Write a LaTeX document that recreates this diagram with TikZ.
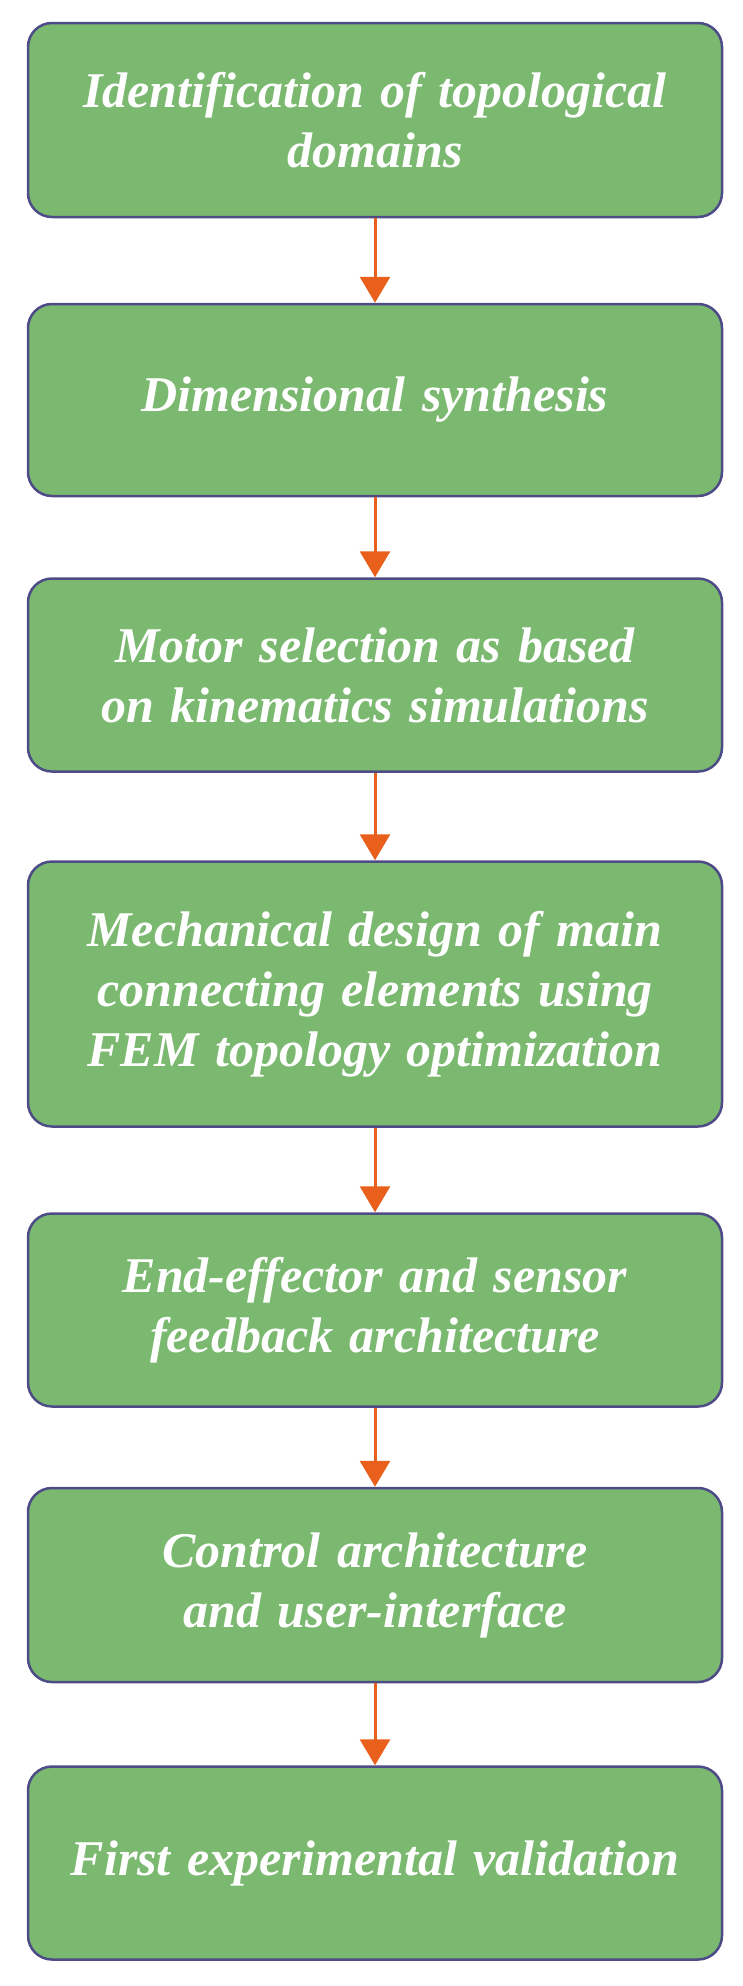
\documentclass[tikz,border=0pt]{standalone}
\usepackage{fontspec}
\setmainfont{Liberation Serif}[WordSpace=0.6]
\usetikzlibrary{arrows.meta}
\definecolor{boxg}{HTML}{7AB96F}
\definecolor{boxb}{HTML}{4E4C86}
\definecolor{arr}{HTML}{E8601C}
\begin{document}
\begin{tikzpicture}[x=1pt,y=-1pt,
  box/.style={draw=boxb,line width=2.5pt,fill=boxg,rounded corners=24pt,minimum width=694pt,
    text width=680pt,align=center,text=white,inner sep=0pt,
    font=\fontsize{50}{60}\selectfont\bfseries\itshape},
  ar/.style={draw=arr,line width=3pt,-{Triangle[length=26pt,width=30pt]}}]
\useasboundingbox (0,0) rectangle (742,1986);
\node[box,minimum height=194pt] (a) at (375,120) {Identification of topological\\ domains};
\node[box,minimum height=192pt] (b) at (375,400) {Dimensional synthesis};
\node[box,minimum height=193pt] (c) at (375,675) {Motor selection as based\\ on kinematics simulations};
\node[box,minimum height=265pt] (d) at (375,994) {Mechanical design of main\\ connecting elements using\\ FEM topology optimization};
\node[box,minimum height=193pt] (e) at (375,1310) {End-effector and sensor\\ feedback architecture};
\node[box,minimum height=194pt] (f) at (375,1585) {Control architecture\\ and user-interface};
\node[box,minimum height=193pt] (g) at (375,1863) {First experimental validation};
\foreach \p/\q in {a/b,b/c,c/d,d/e,e/f,f/g} \draw[ar] (\p) -- (\q);
\end{tikzpicture}
\end{document}
